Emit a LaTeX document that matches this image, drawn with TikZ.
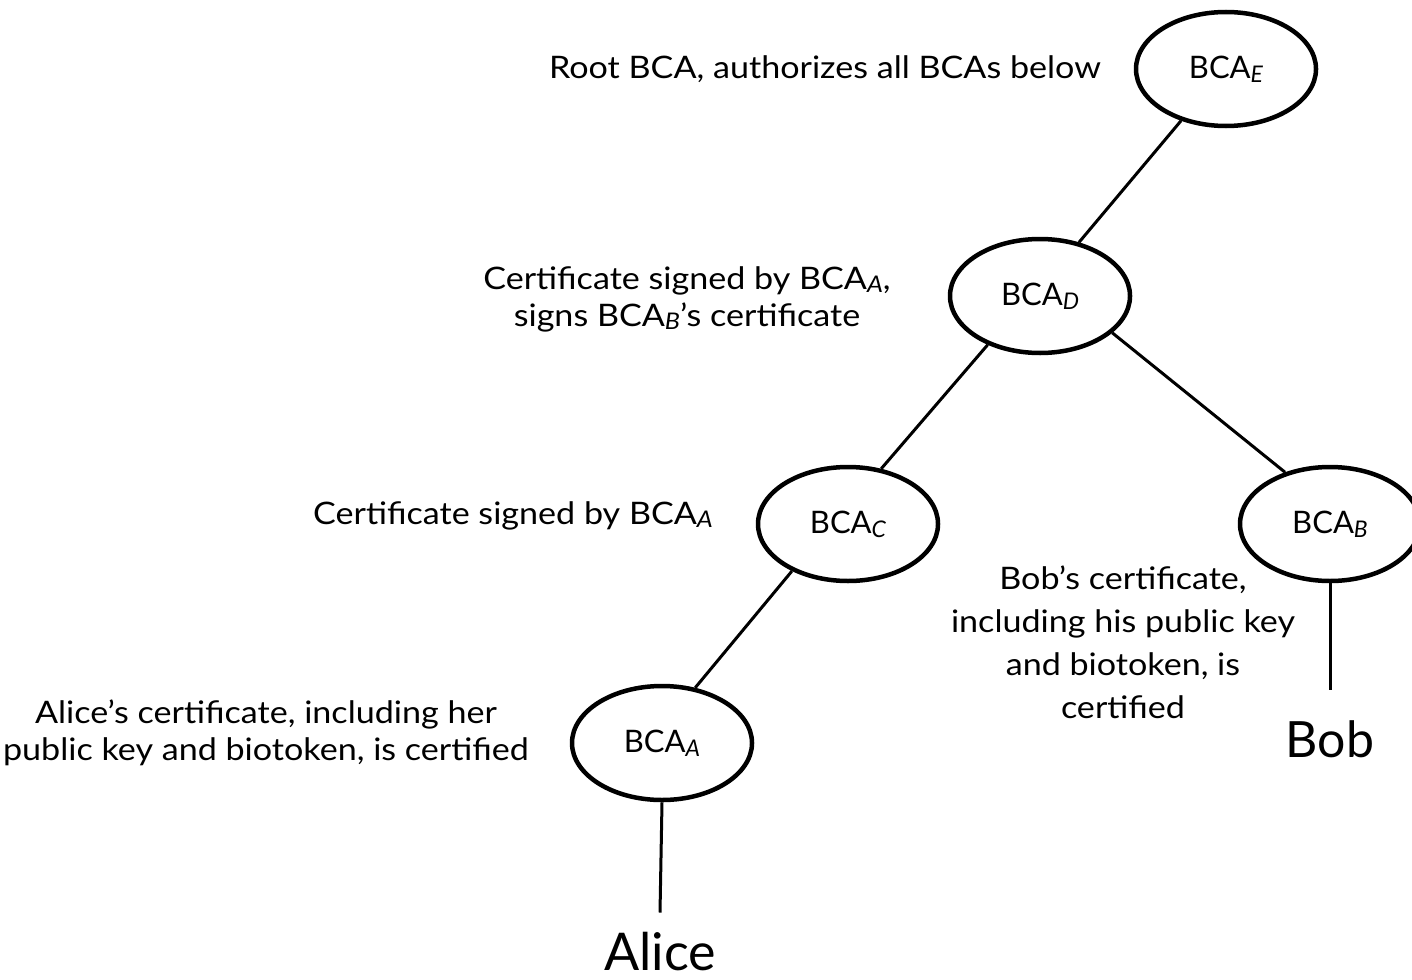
\documentclass[tikz,border=0pt]{standalone}
\usepackage{fontspec}
\setmainfont{Lato}
\newfontfamily\notefont[FakeStretch=1.1]{Lato}
\usepackage{graphicx}
\usetikzlibrary{shapes.geometric}
% italic subscript letter used in the authority names
\newcommand{\bsub}[1]{\raisebox{-0.12em}{\scalebox{0.74}{\itshape #1}}}
\begin{document}
\begin{tikzpicture}[x=1pt,y=-1pt,
  bca/.style={ellipse, draw, line width=4.5pt, minimum width=180pt,
    minimum height=114pt, inner sep=0pt, font=\fontsize{31}{36}\selectfont},
  link/.style={line width=3pt},
  note/.style={inner sep=0pt, align=center, font=\notefont\fontsize{31}{37}\selectfont},
  party/.style={inner sep=0pt, font=\fontsize{52}{60}\selectfont}]
\path[use as bounding box] (0,0) rectangle (1412,979);

% certification authorities
\node[bca] (E) at (1226,69)  {BCA\bsub{E}};
\node[bca] (D) at (1040,296) {BCA\bsub{D}};
\node[bca] (C) at (848,524)  {BCA\bsub{C}};
\node[bca] (B) at (1330,524) {BCA\bsub{B}};
\node[bca] (A) at (662,743)  {BCA\bsub{A}};

% end users
\node[party, anchor=base] (Alice) at (660,970) {Alice};
\node[party, anchor=base, font=\fontsize{50}{60}\selectfont] (Bob) at (1330,757) {Bob};

% explanations (multi-line notes are placed by their last baseline)
\node[note, anchor=base] (rootnote) at (825,79) {Root BCA, authorizes all BCAs below};
\node[note, anchor=base] (dnote) at (687,326)
  {Certificate signed by BCA\bsub{A},\\ signs BCA\bsub{B}’s certificate};
\node[note, anchor=base] (cnote) at (513,524) {Certificate signed by BCA\bsub{A}};
\node[note, anchor=base, font=\notefont\fontsize{31}{43}\selectfont] (bnote) at (1123,718)
  {Bob’s certificate,\\ including his public key\\ and biotoken, is\\ certified};
\node[note, anchor=base] (anote) at (266,760)
  {Alice’s certificate, including her\\ public key and biotoken, is certified};

% hierarchy
\draw[link] (E.229) -- (D.54);
\draw[link] (D.223) -- (C.59);
\draw[link] (D.333) -- (B.131);
\draw[link] (C.220) -- (A.59);
\draw[link] (A.south) -- ([yshift=19pt]Alice.north);
\draw[link] (B.south) -- ([yshift=30pt]Bob.north);
\end{tikzpicture}
\end{document}
